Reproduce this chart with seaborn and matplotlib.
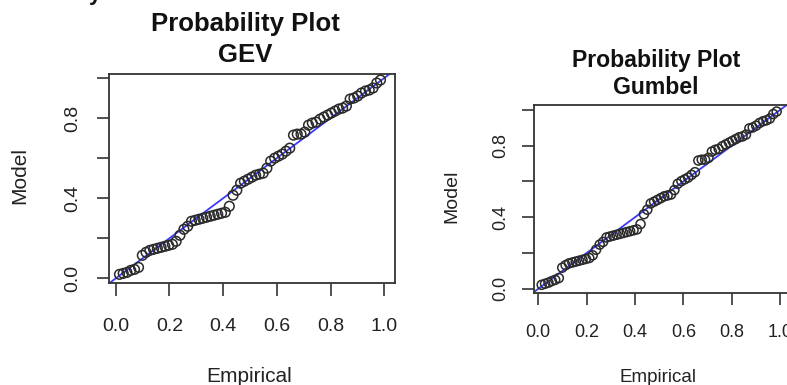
import matplotlib
matplotlib.use("Agg")
import matplotlib.pyplot as plt
import seaborn as sns
import numpy as np

sns.set_theme(style="white")
plt.rcParams['font.family'] = ['Liberation Sans', 'DejaVu Sans']

empirical = [0.014, 0.028, 0.042, 0.056, 0.070, 0.085, 0.099, 0.113, 0.127, 0.141,
             0.155, 0.169, 0.183, 0.197, 0.211, 0.225, 0.239, 0.254, 0.268, 0.282,
             0.296, 0.310, 0.324, 0.338, 0.352, 0.366, 0.380, 0.394, 0.408, 0.423,
             0.437, 0.451, 0.465, 0.479, 0.493, 0.507, 0.521, 0.535, 0.549, 0.563,
             0.577, 0.592, 0.606, 0.620, 0.634, 0.648, 0.662, 0.676, 0.690, 0.704,
             0.718, 0.732, 0.746, 0.761, 0.775, 0.789, 0.803, 0.817, 0.831, 0.845,
             0.859, 0.873, 0.887, 0.901, 0.915, 0.930, 0.944, 0.958, 0.972, 0.986]

model_gev = [0.020, 0.025, 0.030, 0.040, 0.045, 0.055, 0.115, 0.130, 0.140, 0.145,
             0.150, 0.155, 0.160, 0.165, 0.170, 0.185, 0.215, 0.245, 0.260, 0.285,
             0.290, 0.295, 0.300, 0.305, 0.310, 0.315, 0.320, 0.325, 0.330, 0.360,
             0.415, 0.440, 0.475, 0.485, 0.495, 0.505, 0.515, 0.520, 0.525, 0.550,
             0.585, 0.600, 0.610, 0.620, 0.635, 0.650, 0.715, 0.720, 0.720, 0.730,
             0.765, 0.775, 0.780, 0.795, 0.805, 0.815, 0.825, 0.835, 0.845, 0.850,
             0.860, 0.895, 0.900, 0.910, 0.925, 0.935, 0.940, 0.950, 0.975, 0.990]

model_gumbel = [0.022, 0.028, 0.034, 0.043, 0.050, 0.060, 0.118, 0.132, 0.142, 0.147,
                0.152, 0.157, 0.162, 0.167, 0.172, 0.187, 0.218, 0.247, 0.262, 0.287,
                0.292, 0.297, 0.302, 0.307, 0.312, 0.317, 0.322, 0.327, 0.332, 0.362,
                0.417, 0.442, 0.477, 0.487, 0.497, 0.507, 0.517, 0.522, 0.527, 0.552,
                0.587, 0.602, 0.612, 0.622, 0.637, 0.652, 0.717, 0.722, 0.722, 0.732,
                0.767, 0.777, 0.782, 0.797, 0.807, 0.817, 0.827, 0.837, 0.847, 0.852,
                0.862, 0.897, 0.902, 0.912, 0.927, 0.937, 0.942, 0.952, 0.977, 0.991]

x_ticks = [0.0, 0.2, 0.4, 0.6, 0.8, 1.0]
x_ticklabels = ["0.0", "0.2", "0.4", "0.6", "0.8", "1.0"]
y_ticks = [0.0, 0.2, 0.4, 0.6, 0.8, 1.0]
y_ticklabels = ["0.0", "", "0.4", "", "0.8", ""]

W, H = 787, 385
fig = plt.figure(figsize=(W / 100, H / 100), dpi=100)


def px_axes(l, t, r, b):
    return fig.add_axes([l / W, 1 - b / H, (r - l) / W, (b - t) / H])


def panel(ax, model, xlim, ylim, tickfs, ticklen, xpad, ypad, ms):
    sns.scatterplot(x=empirical, y=model, ax=ax, marker='o', s=ms,
                    linewidth=1.1, legend=False, zorder=3)
    coll = ax.collections[0]
    coll.set_facecolor('none')
    coll.set_edgecolor('#2a2a2a')
    ax.axline((0, 0), slope=1, color='#3a3aff', lw=1.3, zorder=2)
    ax.set_xlim(*xlim)
    ax.set_ylim(*ylim)
    ax.set_xticks(x_ticks)
    ax.set_xticklabels(x_ticklabels)
    ax.set_yticks(y_ticks)
    ax.set_yticklabels(y_ticklabels)
    ax.tick_params(axis='both', direction='out', length=ticklen, width=1.1,
                   color='#222222', labelsize=tickfs, labelcolor='#222222',
                   left=True, bottom=True)
    ax.tick_params(axis='x', pad=xpad)
    ax.tick_params(axis='y', pad=ypad)
    for lab in ax.get_yticklabels():
        lab.set_rotation(90)
        lab.set_va('center')
        lab.set_ha('right')
    for s in ax.spines.values():
        s.set_color('#333333')
        s.set_linewidth(1.3)
        s.set_visible(True)
    ax.set_xlabel('')
    ax.set_ylabel('')
    ax.grid(False)


ax1 = px_axes(109, 74, 395, 283)
panel(ax1, model_gev, (-0.025, 1.04), (-0.023, 1.02), 14, 9, 16, 11, 48)

ax2 = px_axes(533.7, 105.3, 789.7, 292.7)
panel(ax2, model_gumbel, (-0.019, 1.04), (-0.022, 1.026), 13, 8.5, 14, 9, 42)

# titles
fig.text(245 / W, 1 - 31 / H, "Probability Plot", ha='center', va='baseline',
         fontsize=18.5, fontweight='bold', color='#111111')
fig.text(245 / W, 1 - 61.5 / H, "GEV", ha='center', va='baseline',
         fontsize=18.5, fontweight='bold', color='#111111')
fig.text(656 / W, 1 - 66.5 / H, "Probability Plot", ha='center', va='baseline',
         fontsize=16.6, fontweight='bold', color='#111111')
fig.text(656 / W, 1 - 93.5 / H, "Gumbel", ha='center', va='baseline',
         fontsize=16.6, fontweight='bold', color='#111111')

# cropped remnant of text above the figure
fig.text(95 / W, 1.0, "y", ha='center', va='baseline', fontsize=16,
         fontweight='bold', color='#111111')

# axis labels
fig.text(20 / W, 1 - 175 / H, "Model", rotation=90, ha='center', va='center',
         fontsize=15, color='#222222')
fig.text(452 / W, 1 - 196 / H, "Model", rotation=90, ha='center', va='center',
         fontsize=14, color='#222222')
fig.text(249 / W, 1 - 382.5 / H, "Empirical", ha='center', va='baseline',
         fontsize=15, color='#222222')
fig.text(658 / W, 1 - 381.5 / H, "Empirical", ha='center', va='baseline',
         fontsize=13.5, color='#222222')

fig.savefig("out.png", dpi=100)
